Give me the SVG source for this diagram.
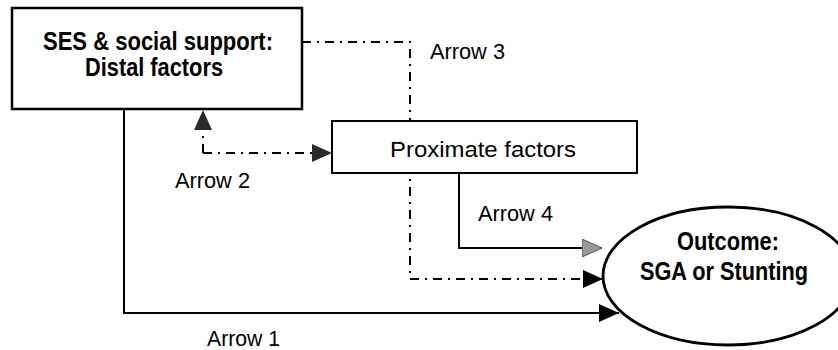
<svg xmlns="http://www.w3.org/2000/svg" width="838" height="350" viewBox="0 0 838 350">
  <style>
    .box { fill: #fff; stroke: #000; }
    .bold { font-family: "Liberation Sans", Arial, sans-serif; font-weight: bold; font-size: 25px; fill: #000; }
    .norm { font-family: "Liberation Sans", Arial, sans-serif; font-size: 22px; fill: #000; }
    .conn { fill: none; stroke: #000; stroke-width: 2; }
    .dd { stroke-dasharray: 9 6 2 6; }
  </style>
  <defs>
    <marker id="hBlack" markerUnits="userSpaceOnUse" markerWidth="22" markerHeight="20" refX="20" refY="9" orient="auto">
      <path d="M0,0 L20,9 L0,18 Z" fill="#000"/>
    </marker>
    <marker id="hDark" markerUnits="userSpaceOnUse" markerWidth="22" markerHeight="20" refX="20" refY="9" orient="auto">
      <path d="M0,0 L20,9 L0,18 Z" fill="#2a2a2a"/>
    </marker>
    <marker id="hGrey" markerUnits="userSpaceOnUse" markerWidth="22" markerHeight="20" refX="20" refY="9" orient="auto">
      <path d="M0,0 L20,9 L0,18 Z" fill="#9a9a9a" stroke="#555" stroke-width="1"/>
    </marker>
  </defs>

  <rect width="838" height="350" fill="#fff"/>

  <g id="connectors">
    <!-- Arrow 1 -->
    <path class="conn" d="M124,109 V313 H619" marker-end="url(#hBlack)"/>
    <!-- Arrow 3 -->
    <path class="conn dd" d="M302,42 H410 V279 H603" marker-end="url(#hBlack)"/>
    <!-- Arrow 2 -->
    <path class="conn dd" d="M203,153 V110" marker-end="url(#hDark)"/>
    <path class="conn dd" d="M203,153 H332" marker-end="url(#hDark)"/>
    <!-- Arrow 4 -->
    <path class="conn" d="M459,173 V248 H602" marker-end="url(#hGrey)"/>

    <text class="norm" x="430" y="59" textLength="75" lengthAdjust="spacingAndGlyphs">Arrow 3</text>
    <text class="norm" x="175" y="188" textLength="75" lengthAdjust="spacingAndGlyphs">Arrow 2</text>
    <text class="norm" x="478" y="221" textLength="75" lengthAdjust="spacingAndGlyphs">Arrow 4</text>
    <text class="norm" x="207" y="346" textLength="73" lengthAdjust="spacingAndGlyphs">Arrow 1</text>
  </g>

  <g id="distal">
    <rect class="box" x="12" y="8" width="290" height="101" stroke-width="2.5"/>
    <text class="bold" x="43" y="50" textLength="230" lengthAdjust="spacingAndGlyphs">SES &amp; social support:</text>
    <text class="bold" x="85" y="76" textLength="138" lengthAdjust="spacingAndGlyphs">Distal factors</text>
  </g>

  <g id="proximate">
    <rect class="box" x="332" y="121" width="305" height="52" stroke-width="2"/>
    <text class="norm" x="390" y="157" textLength="186" lengthAdjust="spacingAndGlyphs">Proximate factors</text>
  </g>

  <g id="outcome">
    <ellipse class="box" cx="728" cy="276" rx="125" ry="69" stroke-width="2.8"/>
    <text class="bold" x="677" y="250" textLength="102" lengthAdjust="spacingAndGlyphs">Outcome:</text>
    <text class="bold" x="640" y="280" textLength="168" lengthAdjust="spacingAndGlyphs">SGA or Stunting</text>
  </g>
</svg>
